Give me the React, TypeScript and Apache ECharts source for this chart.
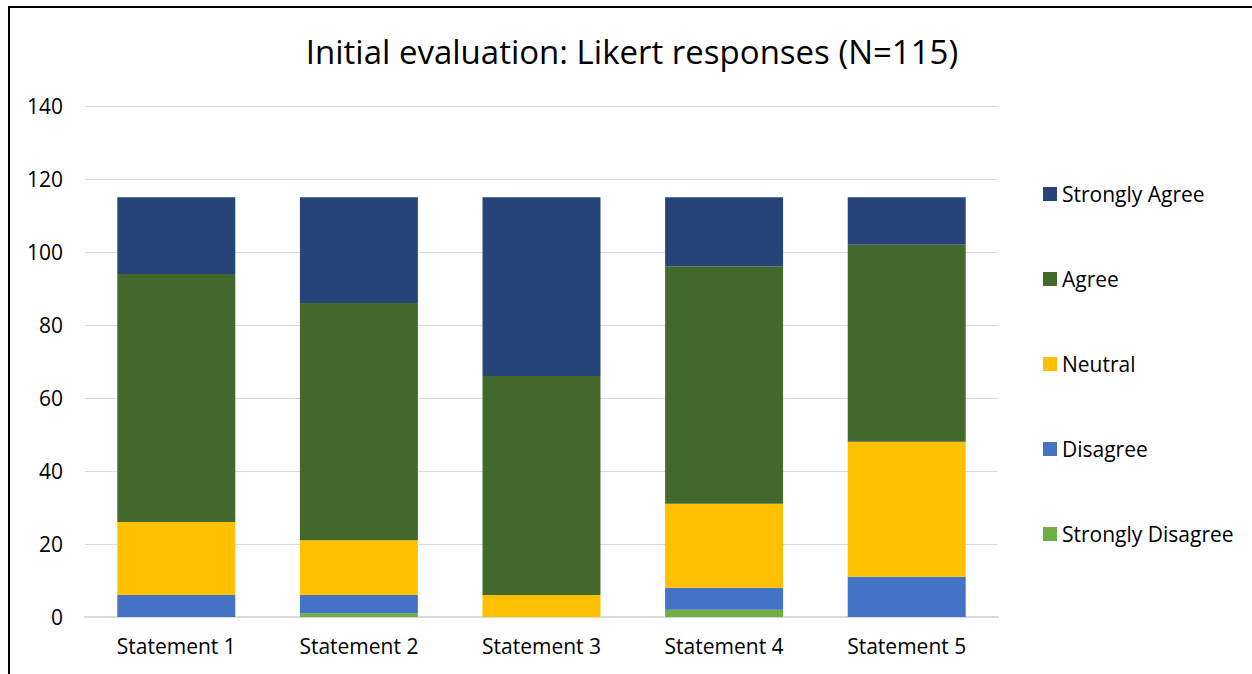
import React, { useEffect, useRef } from "react";
import * as echarts from "echarts";

const categories = ["Statement 1", "Statement 2", "Statement 3", "Statement 4", "Statement 5"];
const stronglyDisagree = [0, 1, 0, 2, 0];
const disagree = [6, 5, 0, 6, 11];
const neutral = [20, 15, 6, 23, 37];
const agree = [68, 65, 60, 65, 54];
const stronglyAgree = [21, 29, 49, 19, 13];

const seriesDefs = [
  { name: "Strongly Disagree", data: stronglyDisagree, color: "#70ad47" },
  { name: "Disagree", data: disagree, color: "#4472c4" },
  { name: "Neutral", data: neutral, color: "#ffc000" },
  { name: "Agree", data: agree, color: "#43682b" },
  { name: "Strongly Agree", data: stronglyAgree, color: "#264478" },
];

const FONT = "Open Sans";

export default function App() {
  const ref = useRef<HTMLDivElement>(null);
  useEffect(() => {
    if (!ref.current) return;
    const chart = echarts.init(ref.current, null, { renderer: "svg" });
    chart.setOption({
      animation: false,
      backgroundColor: "#ffffff",
      title: {
        text: "Initial evaluation: Likert responses (N=115)",
        left: 632,
        textAlign: "center",
        top: 35,
        padding: 0,
        textStyle: { fontFamily: FONT, fontSize: 33, fontWeight: "normal", color: "#000000" },
      },
      grid: { left: 85, right: 254, top: 106, bottom: 57, containLabel: false },
      legend: {
        orient: "vertical",
        left: 1043,
        top: 183,
        padding: 0,
        itemWidth: 14,
        itemHeight: 14,
        itemGap: 63,
        icon: "rect",
        data: seriesDefs.map((s) => s.name).reverse(),
        textStyle: { fontFamily: FONT, fontSize: 21, color: "#000000", lineHeight: 22 },
      },
      xAxis: {
        type: "category",
        data: categories,
        axisLine: { lineStyle: { color: "#d9d9d9", width: 2 } },
        axisTick: { show: false },
        axisLabel: { fontFamily: FONT, fontSize: 21, color: "#000000", margin: 18 },
      },
      yAxis: {
        type: "value",
        min: 0,
        max: 140,
        interval: 20,
        axisLine: { show: false },
        axisTick: { show: false },
        splitLine: { lineStyle: { color: "#d9d9d9", width: 1 } },
        axisLabel: { fontFamily: FONT, fontSize: 21, color: "#000000", margin: 22 },
      },
      series: seriesDefs.map((s) => ({
        name: s.name,
        type: "bar",
        stack: "total",
        data: s.data,
        barWidth: "64.6%",
        itemStyle: { color: s.color },
      })),
      graphic: [
        { type: "line", shape: { x1: 9, y1: 6, x2: 9, y2: 674 }, style: { stroke: "#000", lineWidth: 2 } },
        { type: "line", shape: { x1: 8, y1: 7, x2: 1252, y2: 7 }, style: { stroke: "#000", lineWidth: 2 } },
      ],
    });
    return () => chart.dispose();
  }, []);
  return (
    <div
      ref={ref}
      style={{ position: "fixed", left: 0, top: 0, width: 1252, height: 674 }}
    />
  );
}
